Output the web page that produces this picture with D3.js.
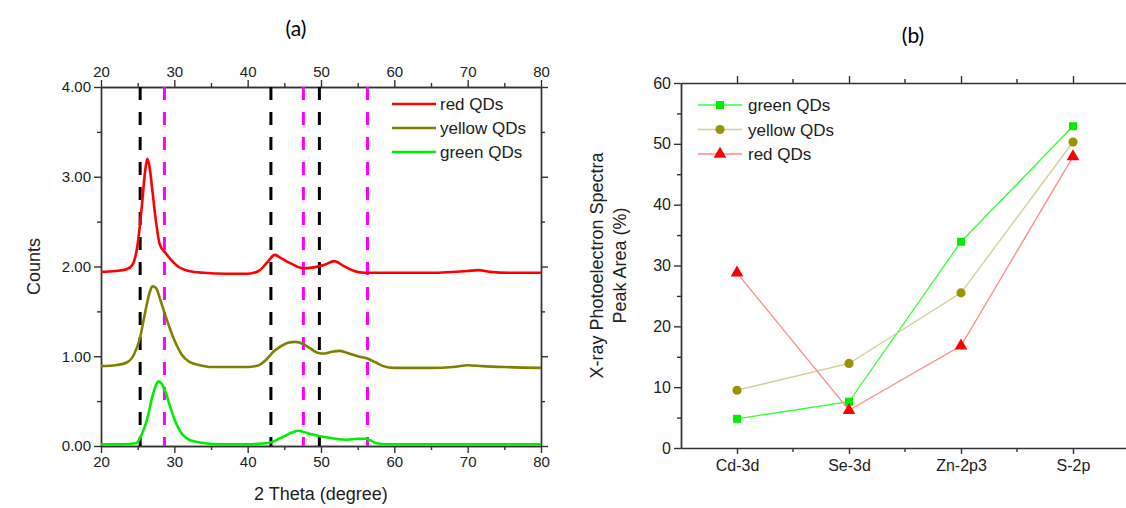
<!DOCTYPE html>
<html>
<head>
<meta charset="utf-8">
<script src="https://cdn.jsdelivr.net/npm/d3@7"></script>
<style>
    body { margin: 0; background: #fff; }
    svg { display: block; font-family: "Liberation Sans", Arial, sans-serif; }
    .tick text { fill: #222; }
    .domain, .tick line { stroke: #333; }
    .title { font-family: Lato, "Open Sans", sans-serif; font-size: 21px; }
</style>
</head>
<body>
<svg id="chart" width="1126" height="508"></svg>
<script>
// ---- (a) XRD patterns ----
const redTheta = [20, 22, 23.5, 24.3, 25, 25.6, 26.0, 26.3, 26.6, 27.0, 27.5, 28.0, 28.8, 29.5, 30.5, 32, 34, 37, 40, 41.5, 42.7, 43.7, 44.6, 46, 47.5, 49, 50.5, 51.8, 53, 54.5, 56, 60, 65, 70, 71.5, 73, 76, 80];
const redCounts = [1.94, 1.95, 1.97, 2.02, 2.25, 2.7, 3.05, 3.2, 3.12, 2.85, 2.5, 2.25, 2.15, 2.08, 2.0, 1.95, 1.93, 1.92, 1.92, 1.95, 2.05, 2.13, 2.09, 2.03, 1.98, 1.99, 2.02, 2.06, 2.01, 1.95, 1.93, 1.93, 1.93, 1.95, 1.96, 1.94, 1.93, 1.93];

const yellowTheta = [20, 22, 23.5, 24.5, 25.3, 26, 26.6, 27.0, 27.5, 28.2, 29, 30, 31, 32, 33.5, 35, 38, 40, 41.5, 42.5, 43.5, 44.5, 45.5, 46.5, 47.5, 48.5, 49.5, 50.5, 51.5, 52.5, 53.5, 55, 56.5, 57.5, 58.5, 60, 65, 68, 70, 72, 75, 80];
const yellowCounts = [0.89, 0.9, 0.93, 1.02, 1.2, 1.48, 1.7, 1.78, 1.76, 1.6, 1.4, 1.18, 1.02, 0.94, 0.9, 0.88, 0.88, 0.88, 0.9, 0.96, 1.05, 1.11, 1.15, 1.16, 1.14, 1.09, 1.04, 1.03, 1.05, 1.06, 1.04, 1.0, 0.97, 0.93, 0.89, 0.87, 0.87, 0.88, 0.9, 0.89, 0.88, 0.87];

const greenTheta = [20, 23, 24.8, 25.5, 26.3, 27, 27.5, 27.8, 28.2, 28.8, 29.5, 30.2, 31, 32, 33.5, 36, 40, 42.5, 43.5, 44.5, 45.5, 46.3, 46.9, 47.5, 48.3, 49.3, 50.5, 52, 53.5, 55, 56, 56.8, 57.6, 59, 62, 70, 80];
const greenCounts = [0.02, 0.02, 0.03, 0.12, 0.3, 0.55, 0.68, 0.72, 0.7, 0.6, 0.42, 0.26, 0.14, 0.07, 0.04, 0.02, 0.02, 0.03, 0.05, 0.09, 0.13, 0.16, 0.17, 0.16, 0.14, 0.12, 0.1, 0.08, 0.07, 0.08, 0.08, 0.06, 0.03, 0.02, 0.02, 0.02, 0.02];

// reference peak positions
const blackRefs = [25.34, 43.17, 49.78];
const magentaRefs = [28.65, 47.6, 56.34];

const thetaTicks = [20, 30, 40, 50, 60, 70, 80];
const countTicks = [0, 1, 2, 3, 4];

// ---- (b) XPS peak areas ----
const elements = ["Cd-3d", "Se-3d", "Zn-2p3", "S-2p"];
const greenArea = [4.8, 7.6, 33.9, 52.9];
const yellowArea = [9.5, 13.9, 25.5, 50.3];
const redArea = [28.8, 6.2, 16.8, 47.9];
const areaTicks = [0, 10, 20, 30, 40, 50, 60];

const svg = d3.select("#chart");

// ================= panel (a) =================
const ax = { left: 101, right: 541, top: 87, bottom: 446 };
const x = d3.scaleLinear().domain([20, 80]).range([ax.left, ax.right]);
const y = d3.scaleLinear().domain([0, 4]).range([ax.bottom, ax.top]);

const pa = svg.append("g");

// minor ticks first
pa.append("g").attr("transform", `translate(0,${ax.bottom})`)
    .call(d3.axisBottom(x).tickValues(d3.range(25, 80, 10)).tickSize(4).tickFormat("").tickSizeOuter(0));
pa.append("g").attr("transform", `translate(0,${ax.top})`)
    .call(d3.axisTop(x).tickValues(d3.range(25, 80, 10)).tickSize(4).tickFormat("").tickSizeOuter(0));
pa.append("g").attr("transform", `translate(${ax.left},0)`)
    .call(d3.axisLeft(y).tickValues([0.5, 1.5, 2.5, 3.5]).tickSize(4).tickFormat("").tickSizeOuter(0));
pa.append("g").attr("transform", `translate(${ax.right},0)`)
    .call(d3.axisRight(y).tickValues([0.5, 1.5, 2.5, 3.5]).tickSize(4).tickFormat("").tickSizeOuter(0));

// major ticks + labels
pa.append("g").attr("transform", `translate(0,${ax.bottom})`)
    .call(d3.axisBottom(x).tickValues(thetaTicks).tickSize(7).tickPadding(3).tickSizeOuter(0));
pa.append("g").attr("transform", `translate(0,${ax.top})`)
    .call(d3.axisTop(x).tickValues(thetaTicks).tickSize(7).tickPadding(3).tickSizeOuter(0));
pa.append("g").attr("transform", `translate(${ax.left},0)`)
    .call(d3.axisLeft(y).tickValues(countTicks).tickSize(7).tickPadding(3).tickFormat(d3.format(".2f")).tickSizeOuter(0));
pa.append("g").attr("transform", `translate(${ax.right},0)`)
    .call(d3.axisRight(y).tickValues(countTicks).tickSize(7).tickFormat("").tickSizeOuter(0));
pa.selectAll(".tick text").style("font-size", "15px");
pa.selectAll(".domain, .tick line").attr("stroke-width", 1.4);

// dashed reference lines
pa.selectAll(".ref-black").data(blackRefs).enter().append("line")
    .attr("x1", d => x(d)).attr("x2", d => x(d))
    .attr("y1", ax.top).attr("y2", ax.bottom)
    .attr("stroke", "#000").attr("stroke-width", 3).attr("stroke-dasharray", "13,12");
pa.selectAll(".ref-magenta").data(magentaRefs).enter().append("line")
    .attr("x1", d => x(d)).attr("x2", d => x(d))
    .attr("y1", ax.top).attr("y2", ax.bottom)
    .attr("stroke", "#ff00ff").attr("stroke-width", 3).attr("stroke-dasharray", "13,12");

// curves
const xrdLine = d3.line().x(d => x(d[0])).y(d => y(d[1])).curve(d3.curveMonotoneX);
const xrdSeries = [
    { name: "red QDs", color: "#ff0000", theta: redTheta, counts: redCounts },
    { name: "yellow QDs", color: "#808000", theta: yellowTheta, counts: yellowCounts },
    { name: "green QDs", color: "#00ee00", theta: greenTheta, counts: greenCounts }
];
xrdSeries.forEach(s => {
    pa.append("path")
        .datum(d3.zip(s.theta, s.counts))
        .attr("fill", "none")
        .attr("stroke", s.color)
        .attr("stroke-width", 2.6)
        .attr("stroke-linejoin", "round")
        .attr("d", xrdLine);
});

// legend (a)
const legA = pa.append("g");
xrdSeries.forEach((s, i) => {
    const ly = 104 + i * 24;
    legA.append("line").attr("x1", 392).attr("x2", 436).attr("y1", ly).attr("y2", ly)
        .attr("stroke", s.color).attr("stroke-width", 2.6);
    legA.append("text").attr("x", 440).attr("y", ly + 6).text(s.name)
        .style("font-size", "17px").attr("fill", "#222");
});

pa.append("text").attr("class", "title").attr("x", 296).attr("y", 36).attr("text-anchor", "middle").text("(a)");
pa.append("text").attr("x", 321).attr("y", 500).attr("text-anchor", "middle")
    .style("font-size", "18px").attr("fill", "#222").text("2 Theta (degree)");
pa.append("text").attr("transform", `translate(40,${(ax.top + ax.bottom) / 2}) rotate(-90)`)
    .attr("text-anchor", "middle").style("font-size", "18px").attr("fill", "#222").text("Counts");

// ================= panel (b) =================
const bx = { left: 681, right: 1129, top: 83, bottom: 448 };
const xb = d3.scalePoint().domain(elements).range([bx.left, bx.right]).padding(0.5);
const yb = d3.scaleLinear().domain([0, 60]).range([bx.bottom, bx.top]);
const step = xb.step();
const midTicks = elements.slice(0, 3).map(e => xb(e) + step / 2);

const pb = svg.append("g");

// minor ticks
pb.append("g").attr("transform", `translate(${bx.left},0)`)
    .call(d3.axisLeft(yb).tickValues(d3.range(5, 60, 10)).tickSize(4).tickFormat("").tickSizeOuter(0));
pb.append("g").attr("transform", `translate(0,${bx.bottom})`).call(g => {
    g.selectAll("line").data(midTicks).enter().append("line")
        .attr("x1", d => d).attr("x2", d => d).attr("y1", 0).attr("y2", 4).attr("stroke", "#333").attr("stroke-width", 1.4);
});
pb.append("g").attr("transform", `translate(0,${bx.top})`).call(g => {
    g.selectAll("line").data(midTicks).enter().append("line")
        .attr("x1", d => d).attr("x2", d => d).attr("y1", 0).attr("y2", -4).attr("stroke", "#333").attr("stroke-width", 1.4);
});

// major ticks + labels
pb.append("g").attr("transform", `translate(${bx.left},0)`)
    .call(d3.axisLeft(yb).tickValues(areaTicks).tickSize(7).tickPadding(3).tickSizeOuter(0));
pb.append("g").attr("transform", `translate(0,${bx.bottom})`)
    .call(d3.axisBottom(xb).tickSize(6).tickPadding(6).tickSizeOuter(0));
pb.append("g").attr("transform", `translate(0,${bx.top})`)
    .call(d3.axisTop(xb).tickSize(7).tickFormat("").tickSizeOuter(0));
pb.selectAll(".tick text").style("font-size", "16px");
pb.selectAll(".domain, .tick line").attr("stroke-width", 1.4);

const xpsSeries = [
    { name: "green QDs", line: "#33ff33", fill: "#00ee00", symbol: d3.symbolSquare, size: 64, values: greenArea },
    { name: "yellow QDs", line: "#d2cd92", fill: "#9a9400", symbol: d3.symbolCircle, size: 66, values: yellowArea },
    { name: "red QDs", line: "#ff8a8a", fill: "#ff0000", symbol: d3.symbolTriangle, size: 70, values: redArea }
];
const xpsLine = d3.line().x(d => xb(d[0])).y(d => yb(d[1]));

xpsSeries.forEach(s => {
    pb.append("path")
        .datum(d3.zip(elements, s.values))
        .attr("fill", "none").attr("stroke", s.line).attr("stroke-width", 1.3)
        .attr("d", xpsLine);
});
xpsSeries.forEach(s => {
    pb.selectAll(null).data(d3.zip(elements, s.values)).enter().append("path")
        .attr("transform", d => `translate(${xb(d[0])},${yb(d[1])})`)
        .attr("d", d3.symbol().type(s.symbol).size(s.size))
        .attr("fill", s.fill);
});

// legend (b)
const legB = pb.append("g");
xpsSeries.forEach((s, i) => {
    const ly = 105 + i * 24.5;
    legB.append("line").attr("x1", 698).attr("x2", 742).attr("y1", ly).attr("y2", ly)
        .attr("stroke", s.line).attr("stroke-width", 1.3);
    legB.append("path").attr("transform", `translate(720,${ly})`)
        .attr("d", d3.symbol().type(s.symbol).size(s.size)).attr("fill", s.fill);
    legB.append("text").attr("x", 748).attr("y", ly + 6).text(s.name)
        .style("font-size", "17px").attr("fill", "#222");
});

pb.append("text").attr("class", "title").attr("x", 913).attr("y", 43).attr("text-anchor", "middle").text("(b)");
const yLab = pb.append("text")
    .attr("transform", `translate(603,${(bx.top + bx.bottom) / 2}) rotate(-90)`)
    .attr("text-anchor", "middle").style("font-size", "18px").attr("fill", "#222");
yLab.append("tspan").attr("x", 0).attr("dy", 0).text("X-ray Photoelectron Spectra");
yLab.append("tspan").attr("x", 0).attr("dy", 23).text("Peak Area (%)");

// let the axis groups use the page font instead of d3's default sans-serif
svg.selectAll("g").attr("font-family", null).attr("font-size", null);
</script>
</body>
</html>
